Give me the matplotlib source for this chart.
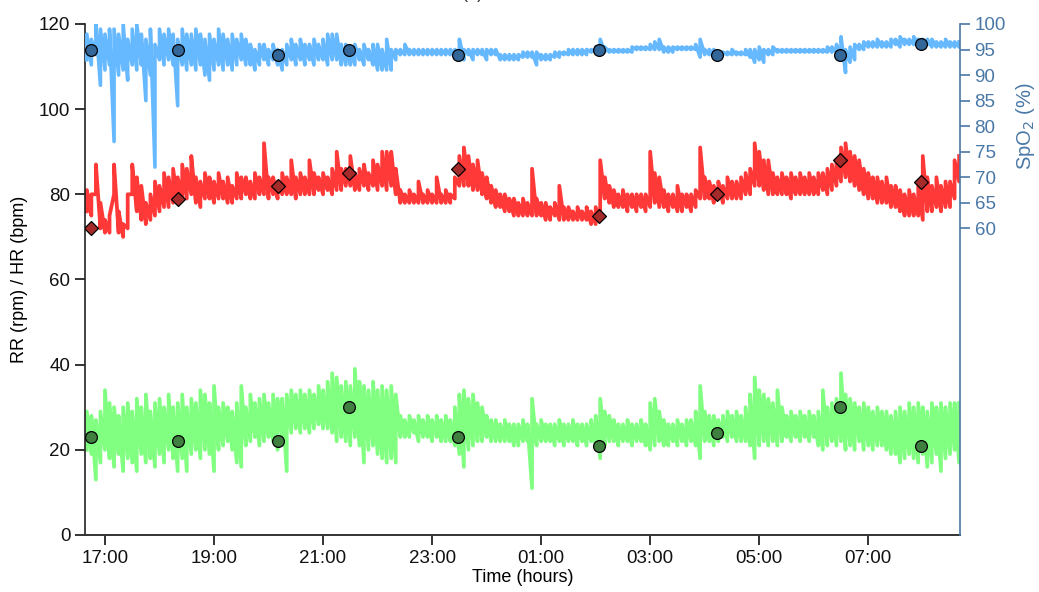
import numpy as np
import pandas as pd
import matplotlib
matplotlib.use('Agg')
import matplotlib.pyplot as plt
import matplotlib.dates as mdates

plt.rcParams['font.family'] = ['Liberation Sans', 'DejaVu Sans']

# 5-minute bins, 16:40 -> 08:40 (one row = 30 minutes); min / max of each bin
times = pd.date_range('2020-01-01 16:40', '2020-01-02 08:40', freq='5min')

hr_lo = [76, 75, 80, 72, 71, 71,
         80, 71, 70, 72, 80, 76,
         74, 73, 74, 75, 76, 77,
         77, 78, 78, 79, 79, 80,
         78, 77, 79, 79, 78, 79,
         79, 78, 78, 79, 79, 80,
         79, 79, 80, 80, 79, 80,
         79, 80, 80, 80, 79, 80,
         80, 80, 80, 81, 80, 81,
         80, 81, 81, 82, 82, 81,
         81, 82, 81, 82, 81, 82,
         81, 82, 80, 78, 78, 78,
         78, 78, 78, 78, 78, 78,
         78, 78, 78, 79, 82, 82,
         82, 81, 81, 80, 79, 78,
         77, 77, 76, 76, 75, 75,
         75, 75, 75, 75, 75, 74,
         74, 75, 74, 74, 74, 74,
         74, 74, 74, 73, 73, 74,
         79, 78, 77, 77, 77, 76,
         77, 76, 77, 76, 77, 78,
         77, 77, 76, 77, 76, 76,
         77, 76, 77, 79, 79, 79,
         78, 79, 78, 79, 79, 79,
         79, 80, 80, 82, 82, 81,
         80, 80, 80, 80, 80, 79,
         80, 80, 80, 80, 80, 80,
         81, 80, 81, 82, 83, 84,
         83, 82, 81, 80, 79, 79,
         78, 78, 78, 77, 77, 76,
         75, 75, 75, 75, 74, 76,
         76, 77, 76, 77, 77, 79,
         83]
hr_hi = [81, 80, 87, 78, 74, 75,
         87, 76, 73, 80, 87, 84,
         82, 78, 80, 83, 82, 85,
         84, 86, 84, 87, 86, 89,
         84, 83, 85, 84, 83, 85,
         83, 84, 82, 85, 84, 84,
         83, 85, 84, 92, 84, 84,
         83, 85, 84, 88, 84, 85,
         84, 88, 85, 84, 85, 84,
         86, 90, 86, 86, 89, 85,
         86, 87, 85, 88, 87, 90,
         90, 90, 86, 81, 80, 81,
         80, 83, 80, 81, 80, 84,
         80, 81, 80, 84, 89, 91,
         89, 87, 88, 85, 84, 82,
         81, 80, 80, 79, 79, 78,
         79, 78, 86, 79, 78, 78,
         77, 78, 82, 77, 77, 76,
         77, 76, 77, 76, 77, 88,
         84, 82, 81, 80, 81, 80,
         80, 80, 80, 80, 90, 85,
         84, 81, 80, 80, 82, 80,
         80, 80, 81, 91, 84, 83,
         82, 83, 82, 84, 83, 83,
         84, 85, 86, 92, 90, 88,
         88, 85, 84, 85, 84, 85,
         84, 85, 84, 85, 84, 85,
         85, 86, 87, 88, 91, 92,
         90, 89, 88, 86, 85, 84,
         84, 83, 84, 82, 82, 81,
         80, 81, 80, 82, 89, 84,
         82, 84, 82, 83, 83, 88,
         89]

spo2_lo = [93, 92, 94, 88, 91, 92,
           77, 90, 91, 89, 92, 91,
           92, 85, 90, 72, 93, 92,
           93, 92, 84, 92, 91, 92,
           91, 92, 90, 89, 91, 92,
           91, 92, 91, 92, 93, 92,
           92, 91, 92, 93, 92, 93,
           92, 91, 92, 93, 92, 93,
           92, 93, 92, 93, 93, 92,
           93, 93, 92, 92, 92, 92,
           93, 92, 93, 92, 91, 91,
           91, 91, 93, 94, 94, 94,
           94, 94, 94, 94, 94, 94,
           94, 94, 94, 94, 94, 93,
           94, 93, 94, 94, 93, 94,
           94, 93, 93, 93, 93, 93,
           93.5, 93.5, 93.5, 92, 93, 93,
           93, 93.5, 93.5, 94, 94, 94,
           94, 94, 94, 94.5, 94.5, 94.5,
           94.5, 94.5, 94.5, 94.5, 94.5, 94.5,
           94.5, 95, 95, 95, 95, 95,
           95, 94.5, 94.5, 94.5, 95, 95,
           95, 95, 95, 93.5, 94, 94,
           94, 94, 94, 94, 94, 94,
           94, 94, 93.5, 92.5, 93, 92.5,
           94, 94, 94.5, 94.5, 94.5, 94.5,
           94.5, 94.5, 94.5, 94.5, 94.5, 94.5,
           94.5, 94.5, 94.5, 94.5, 93.5, 90.5,
           92.5, 93, 95, 95, 95.5, 95.5,
           95.5, 95.5, 95.5, 95.5, 96, 95.5,
           96, 96, 96, 96, 95.5, 96,
           95.5, 95.5, 95.5, 95.5, 95.5, 95.5,
           95.5]
spo2_hi = [98, 97, 100, 99, 98, 99,
           99, 98, 100, 97, 99, 100,
           98, 97, 99, 96, 99, 98,
           99, 98, 97, 99, 98, 98,
           99, 98, 97, 98, 97, 99,
           98, 97, 98, 97, 98, 97,
           96, 95, 96, 96, 95, 96,
           95, 95, 96, 97, 96, 97,
           96, 96, 97, 96, 97, 98,
           98, 98, 96, 96, 95, 96,
           95, 96, 95, 96, 96, 95,
           97, 95, 95, 95, 96, 95,
           95, 95, 95, 95, 95, 95,
           95, 95, 95, 95, 97, 95,
           95, 95, 95, 95, 95, 95,
           95, 94, 94, 94, 94, 94,
           94.5, 94.5, 94.5, 94.5, 94, 94,
           94, 94.5, 94.5, 94.5, 95, 95,
           95, 95, 95, 95, 95.5, 97,
           95.5, 95, 95, 95, 95, 95,
           95.5, 95.5, 95.5, 95.5, 96, 96.5,
           97, 95.5, 95.5, 95.5, 95.5, 95.5,
           95.5, 95.5, 96, 97, 95, 95,
           95, 94.5, 94.5, 94.5, 95, 94.5,
           94.5, 95, 95, 95, 95.5, 95,
           95, 95.5, 95, 95, 95, 95,
           95, 95, 95, 95, 95, 95,
           95, 95.5, 95.5, 96, 97.5, 95,
           95.5, 96, 96, 96.5, 96.5, 96.5,
           97, 96.5, 96.5, 97, 97, 97.5,
           97, 97, 97.5, 97, 97, 97,
           97, 96.5, 96.5, 97, 96.5, 96.5,
           96.5]

rr_lo = [20, 19, 13, 17, 20, 18,
         16, 19, 15, 18, 17, 15,
         19, 17, 18, 16, 19, 17,
         20, 18, 15, 18, 15, 19,
         20, 18, 20, 19, 15, 20,
         21, 22, 20, 17, 16, 21,
         22, 23, 21, 22, 23, 22,
         20, 23, 15, 24, 25, 24,
         25, 24, 25, 26, 25, 25,
         24, 22, 23, 22, 21, 23,
         21, 17, 20, 21, 19, 18,
         17, 18, 17, 23, 23, 23,
         24, 22, 23, 23, 22, 23,
         22, 22, 22, 21, 19, 16,
         20, 21, 22, 22, 23, 22,
         22, 22, 22, 22, 21, 21,
         22, 22, 11, 21, 22, 22,
         22, 21, 22, 21, 22, 22,
         21, 22, 21, 22, 21, 18,
         21, 22, 22, 21, 22, 22,
         21, 22, 22, 21, 20, 21,
         22, 21, 21, 22, 21, 22,
         21, 22, 21, 18, 22, 22,
         21, 22, 23, 22, 23, 22,
         22, 22, 21, 18, 21, 22,
         21, 22, 21, 22, 23, 22,
         23, 22, 23, 22, 23, 21,
         20, 21, 22, 21, 22, 20,
         21, 20, 22, 20, 21, 20,
         21, 21, 20, 19, 19, 17,
         18, 19, 18, 17, 19, 16,
         17, 19, 15, 18, 19, 20,
         17]
rr_hi = [29, 28, 27, 29, 34, 31,
         30, 28, 30, 31, 29, 32,
         30, 33, 29, 31, 32, 30,
         33, 30, 31, 33, 30, 32,
         31, 34, 33, 31, 35, 30,
         31, 30, 29, 31, 35, 30,
         33, 31, 32, 33, 31, 33,
         32, 32, 33, 34, 33, 34,
         33, 34, 33, 35, 34, 36,
         38, 37, 35, 36, 35, 39,
         36, 35, 34, 36, 34, 35,
         34, 35, 33, 28, 27, 28,
         27, 28, 27, 28, 27, 28,
         27, 28, 27, 30, 33, 34,
         32, 33, 31, 30, 28, 27,
         27, 26, 27, 26, 26, 26,
         27, 26, 32, 26, 27, 26,
         26, 26, 27, 26, 26, 27,
         26, 26, 26, 27, 28, 32,
         29, 28, 27, 26, 26, 27,
         26, 26, 27, 26, 31, 32,
         29, 27, 26, 26, 27, 26,
         27, 27, 29, 35, 29, 28,
         28, 27, 28, 29, 28, 29,
         28, 30, 33, 37, 34, 33,
         32, 31, 34, 30, 28, 29,
         28, 29, 28, 29, 28, 29,
         34, 30, 31, 32, 38, 33,
         32, 31, 30, 31, 30, 29,
         30, 29, 29, 28, 29, 30,
         29, 31, 30, 31, 30, 29,
         31, 30, 31, 30, 31, 31,
         31]

# spot-check measurements
spot_times = pd.to_datetime(['2020-01-01 16:45', '2020-01-01 18:20', '2020-01-01 20:10',
                             '2020-01-01 21:29', '2020-01-01 23:29', '2020-01-02 02:04',
                             '2020-01-02 04:13', '2020-01-02 06:29', '2020-01-02 07:58'])
spot_hr = [72, 79, 82, 85, 86, 75, 80, 88, 83]
spot_rr = [23, 22, 22, 30, 23, 21, 24, 30, 21]
spot_spo2 = [95, 95, 94, 95, 94, 95, 94, 94, 96]


def minmax_trace(lo, hi):
    # draw each bin as a vertical stroke from its min to its max
    x = np.repeat(times.values, 2)
    y = np.column_stack([lo, hi]).ravel()
    return x, y


spo2_col = '#4a78a6'

fig = plt.figure(figsize=(10.39, 5.92), dpi=100)
ax = fig.add_axes([0.0818, 0.0963, 0.924 - 0.0818, 0.9595 - 0.0963])
ax2 = ax.twinx()

ax.plot(*minmax_trace(hr_lo, hr_hi), color='#ff3838', lw=2.7, zorder=2)
ax.plot(*minmax_trace(rr_lo, rr_hi), color='#80ff80', lw=2.7, zorder=2)
ax.plot(spot_times, spot_hr, 'D', ms=7, mfc='#a52a2a', mec='black', mew=0.9, zorder=3)
ax.plot(spot_times, spot_rr, 'o', ms=8.5, mfc='#3f7f3f', mec='black', mew=0.9, zorder=3)

ax2.plot(*minmax_trace(spo2_lo, spo2_hi), color='#66b8ff', lw=2.6, zorder=2)
ax2.plot(spot_times, spot_spo2, 'o', ms=8.5, mfc='#336699', mec='black', mew=0.9, zorder=3)

ax.set_ylim(0, 120)
ax.set_yticks([0, 20, 40, 60, 80, 100, 120])
ax2.set_ylim(0, 100)
ax2.set_yticks([60, 65, 70, 75, 80, 85, 90, 95, 100])
ax.set_xlim(pd.Timestamp('2020-01-01 16:38'), pd.Timestamp('2020-01-02 08:41'))
ax.xaxis.set_major_locator(mdates.HourLocator(byhour=[17, 19, 21, 23, 1, 3, 5, 7]))
ax.xaxis.set_major_formatter(mdates.DateFormatter('%H:%M'))

for a in (ax, ax2):
    a.spines['top'].set_visible(False)
ax.spines['right'].set_visible(False)
ax2.spines['left'].set_visible(False)
ax2.spines['bottom'].set_visible(False)
ax.spines['left'].set_color('#222222')
ax.spines['bottom'].set_color('#333333')
ax.spines['left'].set_linewidth(1.2)
ax.spines['bottom'].set_linewidth(1.4)
ax2.spines['right'].set_color(spo2_col)
ax2.spines['right'].set_linewidth(1.2)

ax.tick_params(axis='both', direction='out', length=7, width=1.2, labelsize=13.5, colors='#111111')
ax2.tick_params(axis='y', direction='out', length=7, width=1.2, labelsize=13.5,
                colors=spo2_col, labelcolor=spo2_col)

ax.set_ylabel('RR (rpm) / HR (bpm)', fontsize=13, labelpad=8)
ax.set_xlabel('Time (hours)', fontsize=13, labelpad=2)
ax2.set_ylabel('SpO$_2$ (%)', fontsize=14.5, color=spo2_col)
ax2.yaxis.set_label_coords(1.062, 0.80)

fig.text(0.445, 1.004, '(a)', fontsize=13, color='#333333', va='baseline')

fig.savefig('out.png', dpi=100)
